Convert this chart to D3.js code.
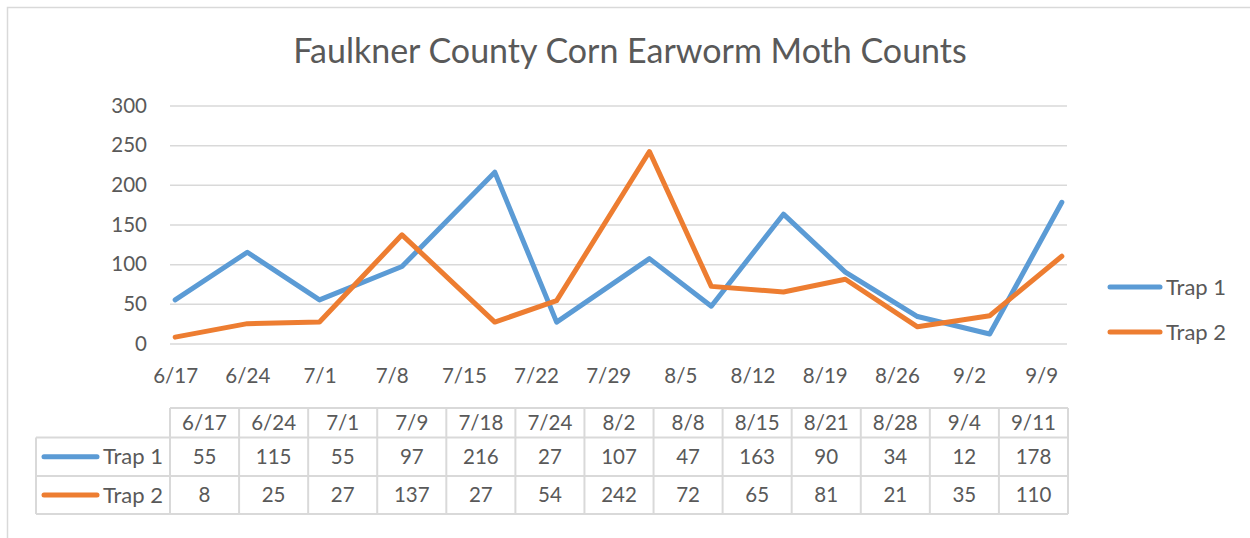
<!DOCTYPE html>
<html>
<head>
<meta charset="utf-8">
<script src="https://cdn.jsdelivr.net/npm/d3@7"></script>
<style>
  html, body { margin: 0; padding: 0; background: #ffffff; }
  svg { display: block; }
  text { font-family: Lato, "Open Sans", sans-serif; fill: #595959; }
</style>
</head>
<body>
<svg id="chart" width="1250" height="538"></svg>
<script>
// ---- Data ----
const chartTitle = "Faulkner County Corn Earworm Moth Counts";
const year = 2019;
const sampleDates = ["6/17","6/24","7/1","7/9","7/18","7/24","8/2","8/8","8/15","8/21","8/28","9/4","9/11"];
const trap1 = [55,115,55,97,216,27,107,47,163,90,34,12,178];
const trap2 = [8,25,27,137,27,54,242,72,65,81,21,35,110];
const tickLabels = ["6/17","6/24","7/1","7/8","7/15","7/22","7/29","8/5","8/12","8/19","8/26","9/2","9/9"];
const yTicks = [0,50,100,150,200,250,300];
const seriesNames = ["Trap 1","Trap 2"];
const seriesColors = ["#5B9BD5","#ED7D31"];

// ---- Helpers ----
const parseMD = s => { const [m,d] = s.split("/").map(Number); return new Date(Date.UTC(year, m-1, d)); };
const dayMs = 86400000;
const dates = sampleDates.map(parseMD);
const tickDates = tickLabels.map(parseMD);
const series = [trap1, trap2];
const numFont = "20.5px";
const nameFont = "22px";
const lineW = 5;

const svg = d3.select("#chart");

// Outer chart border
svg.append("rect")
  .attr("x", 7.5).attr("y", 7.5)
  .attr("width", 1300).attr("height", 600)
  .attr("fill", "#ffffff").attr("stroke", "#d9d9d9").attr("stroke-width", 1.5);

// Plot geometry
const plotLeft = 170, plotRight = 1067, plotTop = 105.5, plotBottom = 343.5;

const x = d3.scaleUtc()
  .domain([new Date(+d3.min(dates) - dayMs/2), new Date(+d3.max(dates) + dayMs/2)])
  .range([plotLeft, plotRight]);
const y = d3.scaleLinear().domain([0, 300]).range([plotBottom, plotTop]);

// Title
svg.append("text")
  .attr("x", 630).attr("y", 63)
  .attr("text-anchor", "middle")
  .style("font-size", "34px")
  .text(chartTitle);

// Y axis with gridlines
const yAxis = svg.append("g")
  .attr("transform", `translate(${plotLeft},0)`)
  .call(d3.axisLeft(y).tickValues(yTicks).tickSize(-(plotRight - plotLeft)).tickPadding(23));
yAxis.select(".domain").remove();
yAxis.selectAll(".tick line").attr("stroke", "#d9d9d9").attr("stroke-width", 1.5);
yAxis.selectAll(".tick text").style("font-size", numFont).attr("fill", "#595959")
  .style("font-family", "Lato, sans-serif");

// X axis labels
const xAxis = svg.append("g")
  .attr("transform", `translate(0,${plotBottom})`)
  .call(d3.axisBottom(x).tickValues(tickDates).tickFormat((d,i) => tickLabels[i]).tickSize(0).tickPadding(24.5));
xAxis.select(".domain").remove();
xAxis.selectAll(".tick text").style("font-size", numFont).attr("fill", "#595959")
  .style("font-family", "Lato, sans-serif");

// Lines
const line = d3.line().x((d,i) => x(dates[i])).y(d => y(d));
series.forEach((s, k) => {
  svg.append("path")
    .datum(s)
    .attr("d", line)
    .attr("fill", "none")
    .attr("stroke", seriesColors[k])
    .attr("stroke-width", lineW)
    .attr("stroke-linejoin", "round")
    .attr("stroke-linecap", "round");
});

// Legend (right)
const legendY = [287, 332];
seriesNames.forEach((name, k) => {
  svg.append("line")
    .attr("x1", 1110).attr("x2", 1160)
    .attr("y1", legendY[k]).attr("y2", legendY[k])
    .attr("stroke", seriesColors[k]).attr("stroke-width", lineW).attr("stroke-linecap", "round");
  svg.append("text")
    .attr("x", 1166).attr("y", legendY[k]).attr("dy", "0.35em")
    .style("font-size", nameFont)
    .text(name);
});

// Data table
const colW = (plotRight + 1 - plotLeft) / sampleDates.length;
const rowEdges = [408, 437.5, 476, 514];
const tableLeft = 36, tableRight = plotLeft + colW * sampleDates.length;
const tbl = svg.append("g");
const gridColor = "#d9d9d9";

// horizontal lines
tbl.append("line").attr("x1", plotLeft).attr("x2", tableRight).attr("y1", rowEdges[0]).attr("y2", rowEdges[0]);
for (let r = 1; r < rowEdges.length; r++) {
  tbl.append("line").attr("x1", tableLeft).attr("x2", tableRight).attr("y1", rowEdges[r]).attr("y2", rowEdges[r]);
}
// vertical lines
tbl.append("line").attr("x1", tableLeft).attr("x2", tableLeft).attr("y1", rowEdges[1]).attr("y2", rowEdges[3]);
for (let c = 0; c <= sampleDates.length; c++) {
  const cx = plotLeft + c * colW;
  tbl.append("line").attr("x1", cx).attr("x2", cx).attr("y1", rowEdges[0]).attr("y2", rowEdges[3]);
}
tbl.selectAll("line").attr("stroke", gridColor).attr("stroke-width", 2);

// header text
sampleDates.forEach((d, i) => {
  tbl.append("text")
    .attr("x", plotLeft + (i + 0.5) * colW)
    .attr("y", (rowEdges[0] + rowEdges[1]) / 2).attr("dy", "0.35em")
    .attr("text-anchor", "middle").style("font-size", numFont)
    .text(d);
});
// series rows
series.forEach((s, k) => {
  const cy = (rowEdges[k+1] + rowEdges[k+2]) / 2;
  tbl.append("line")
    .attr("x1", 44).attr("x2", 97).attr("y1", cy).attr("y2", cy)
    .attr("stroke", seriesColors[k]).attr("stroke-width", lineW).attr("stroke-linecap", "round");
  tbl.append("text")
    .attr("x", 163).attr("y", cy).attr("dy", "0.35em")
    .attr("text-anchor", "end").style("font-size", nameFont)
    .text(seriesNames[k]);
  s.forEach((v, i) => {
    tbl.append("text")
      .attr("x", plotLeft + (i + 0.5) * colW)
      .attr("y", cy).attr("dy", "0.35em")
      .attr("text-anchor", "middle").style("font-size", numFont)
      .text(v);
  });
});
</script>
</body>
</html>
